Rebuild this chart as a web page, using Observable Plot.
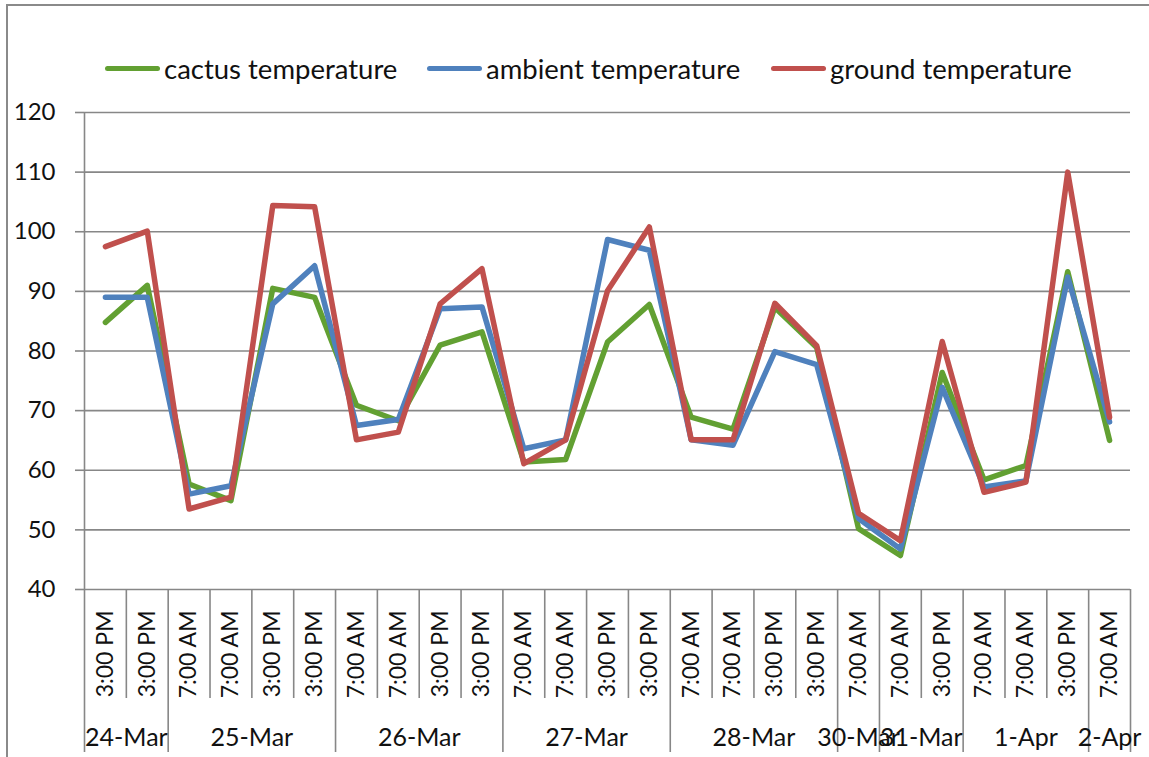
<!DOCTYPE html>
<html>
<head>
<meta charset="utf-8">
<script src="https://cdn.jsdelivr.net/npm/d3@7"></script>
<script src="https://cdn.jsdelivr.net/npm/@observablehq/plot@0.6"></script>
<style>
  html, body { margin: 0; padding: 0; background: #fff; }
  #wrap { position: relative; width: 1149px; height: 757px; overflow: hidden; font-family: Lato, "Open Sans", sans-serif; }
  #border { position: absolute; left: 6px; top: 4px; width: 1200px; height: 800px; border-left: 2px solid #8a8a8a; border-top: 2px solid #8a8a8a; pointer-events: none; }
  #legend { position: relative; height: 88px; }
  .item { position: absolute; top: 50px; height: 36px; display: flex; align-items: center; font-size: 27.5px; color: #111; white-space: nowrap; }
  .sw { width: 55px; height: 5px; border-radius: 3px; margin-right: 4px; }
  svg { display: block; overflow: visible; }
</style>
</head>
<body>
<div id="wrap">
  <div id="legend"></div>
  <div id="chart"></div>
  <div id="border"></div>
</div>
<script>
// Category labels (x axis, lower level: time of reading)
const times = ["3:00 PM","3:00 PM","7:00 AM","7:00 AM","3:00 PM","3:00 PM","7:00 AM","7:00 AM","3:00 PM","3:00 PM","7:00 AM","7:00 AM","3:00 PM","3:00 PM","7:00 AM","7:00 AM","3:00 PM","3:00 PM","7:00 AM","7:00 AM","3:00 PM","7:00 AM","7:00 AM","3:00 PM","7:00 AM"];
// Upper level: dates and how many readings each
const dates = ["24-Mar","25-Mar","26-Mar","27-Mar","28-Mar","30-Mar","31-Mar","1-Apr","2-Apr"];
const dateCounts = [2,4,4,4,4,1,2,3,1];
// Series
const seriesNames = ["cactus temperature","ambient temperature","ground temperature"];
const seriesColors = ["#62a032","#4f81bd","#c0504d"];
const cactus  = [84.8,91.0,57.7,54.9,90.5,89.0,70.9,68.3,81.0,83.2,61.4,61.8,81.5,87.8,68.9,66.9,87.3,80.6,50.2,45.7,76.4,58.4,60.8,93.3,65.0];
const ambient = [89.0,89.0,56.0,57.4,87.9,94.3,67.5,68.5,87.1,87.4,63.6,65.1,98.7,96.9,65.1,64.2,79.9,77.7,51.9,46.8,73.9,57.2,58.2,92.4,68.1];
const ground  = [97.5,100.1,53.5,55.5,104.4,104.2,65.1,66.4,87.9,93.8,61.1,65.1,90.1,100.8,65.1,65.1,88.0,80.9,52.8,48.2,81.6,56.3,58.0,110.0,68.9];
const yTicks = [40,50,60,70,80,90,100,110,120];

const seriesValues = [cactus, ambient, ground];
const n = times.length;
const rows = [];
seriesValues.forEach((vals, s) => vals.forEach((v, i) => rows.push({series: seriesNames[s], x: i + 0.5, v})));

// group boundaries and centers
const groupBounds = [0];
const groupCenters = [];
let acc = 0;
dateCounts.forEach(c => { groupCenters.push(acc + c / 2); acc += c; groupBounds.push(acc); });
const catBounds = d3.range(1, n).filter(b => !groupBounds.includes(b));
const catCenters = d3.range(n).map(i => i + 0.5);

// legend
const legend = document.getElementById("legend");
const legendLeft = [105, 427, 771];
seriesNames.forEach((name, s) => {
  const it = document.createElement("div");
  it.className = "item";
  it.style.left = legendLeft[s] + "px";
  it.innerHTML = `<div class="sw" style="background:${seriesColors[s]}"></div><span>${name}</span>`;
  legend.appendChild(it);
});

const gray = "#878787";
const chart = Plot.plot({
  width: 1149,
  height: 669,
  marginTop: 24,
  marginBottom: 168,
  marginLeft: 84,
  marginRight: 19,
  style: {fontFamily: "Lato, 'Open Sans', sans-serif", color: "#111", background: "#fff"},
  x: {domain: [0, n], axis: null},
  y: {domain: [40, 120], axis: null},
  color: {domain: seriesNames, range: seriesColors},
  marks: [
    Plot.gridY(yTicks, {stroke: gray, strokeOpacity: 1, strokeWidth: 1.6}),
    Plot.axisY(yTicks, {tickSize: 9, tickPadding: 20, fontSize: 24, stroke: gray, strokeWidth: 1.6, label: null, tickFormat: d => String(d)}),
    Plot.ruleX([0], {stroke: gray, strokeWidth: 1.6}),
    Plot.axisX(catBounds, {tickSize: 109, stroke: gray, strokeWidth: 1.6, tickFormat: () => "", label: null}),
    Plot.axisX(groupBounds, {tickSize: 163, stroke: gray, strokeWidth: 1.6, tickFormat: () => "", label: null}),
    Plot.axisX(catCenters, {tickSize: 0, tickPadding: 21, tickRotate: -90, fontSize: 23, tickFormat: d => times[Math.floor(d)], label: null}),
    Plot.axisX(groupCenters, {tickSize: 0, tickPadding: 139, fontSize: 25, tickFormat: (d, i) => dates[i], label: null}),
    Plot.line(rows, {x: "x", y: "v", z: "series", stroke: "series", strokeWidth: 5.5, strokeLinejoin: "round", strokeLinecap: "round"})
  ]
});
document.getElementById("chart").appendChild(chart);
</script>
</body>
</html>
